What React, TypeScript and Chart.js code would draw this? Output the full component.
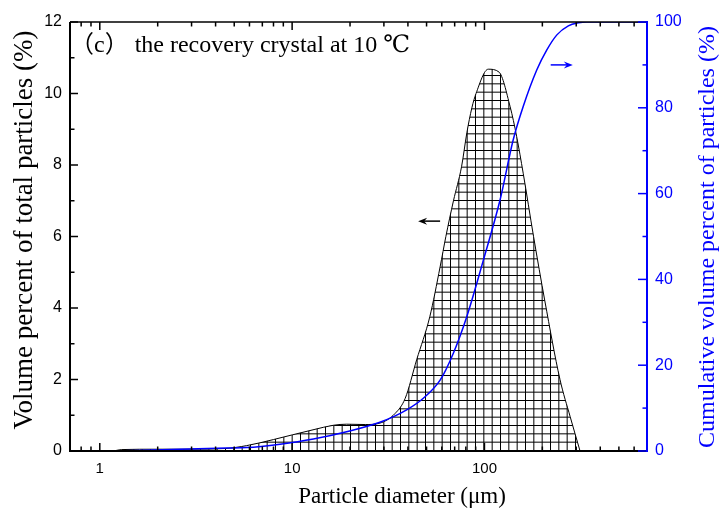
import React, { useEffect, useRef } from 'react';
import { Chart, registerables } from 'chart.js';

Chart.register(...registerables);

// ---- data ----
const volumeSizes = [1.18, 1.3, 2, 3, 4.5, 5.8, 8, 10, 13, 16.4, 19.2, 24, 28.6, 34.3, 38.7, 44.4, 52, 58.8, 63, 69, 76, 81, 86, 90.4, 104.7, 119, 136, 147, 159, 180, 206, 247, 279, 314];
const volumeValues = [0, 0.04, 0.05, 0.05, 0.07, 0.15, 0.32, 0.45, 0.6, 0.72, 0.75, 0.74, 0.78, 1.05, 1.47, 2.55, 3.76, 5.15, 6.0, 7.0, 7.95, 8.9, 9.6, 10.0, 10.68, 10.6, 9.63, 8.8, 7.77, 6.0, 4.2, 2.0, 0.96, 0];

const cumulativeSizes = [1.18, 2.61, 4.57, 5.8, 8.65, 12.9, 19.2, 28.6, 39.4, 48.1, 58.8, 68.9, 80.9, 98.7, 120.5, 141, 159, 187, 211, 238, 273, 308, 340, 700];
const cumulativeValues = [0, 0.4, 0.7, 0.8, 1.6, 2.8, 4.5, 6.7, 9.6, 12.3, 16.5, 22.8, 31.3, 44.5, 58.5, 72.5, 80.3, 88.8, 93.5, 97, 99.1, 99.8, 100, 100];

const xTickLabels = [1, 10, 100];
const xRange = [0.7, 700];
const leftRange = [0, 12];
const leftStep = 2;
const rightRange = [0, 100];
const rightStep = 20;

// arrows (data coordinates)
const leftArrowX = [58.8, 45.2];
const leftArrowY = 6.43;
const rightArrowX = [221, 288];
const rightArrowY = 90;

const annotationText = '（c） the recovery crystal at 10 ℃';
const xTitle = 'Particle diameter (μm)';
const leftTitle = 'Volume percent of total particles (%)';
const rightTitle = 'Cumulative volume percent of particles (%)';

const BLUE = '#0000ff';
const SERIF = '"Liberation Serif", "Times New Roman", "DejaVu Serif", "Noto Sans CJK SC", serif';
const SANS = '"Liberation Sans", Arial, sans-serif';

function makeHatch(ctx: CanvasRenderingContext2D) {
  const c = document.createElement('canvas');
  c.width = 25;
  c.height = 25;
  const g = c.getContext('2d')!;
  g.strokeStyle = '#000';
  g.lineWidth = 1;
  const step = 25 / 3;
  for (let i = 0; i < 3; i++) {
    const p = 0.5 + i * step;
    g.beginPath();
    g.moveTo(p, 0);
    g.lineTo(p, 25);
    g.stroke();
    g.beginPath();
    g.moveTo(0, p);
    g.lineTo(25, p);
    g.stroke();
  }
  return ctx.createPattern(c, 'repeat');
}

function drawArrow(ctx: CanvasRenderingContext2D, x1: number, x2: number, y: number, color: string) {
  const dir = Math.sign(x2 - x1);
  ctx.strokeStyle = color;
  ctx.fillStyle = color;
  ctx.lineWidth = 1.5;
  ctx.beginPath();
  ctx.moveTo(x1, y);
  ctx.lineTo(x2 - dir * 4, y);
  ctx.stroke();
  ctx.beginPath();
  ctx.moveTo(x2, y);
  ctx.lineTo(x2 - dir * 9, y - 3.5);
  ctx.lineTo(x2 - dir * 6, y);
  ctx.lineTo(x2 - dir * 9, y + 3.5);
  ctx.closePath();
  ctx.fill();
}

const originPlugin = {
  id: 'originStyle',
  afterDatasetsDraw(chart: any) {
    const { ctx, chartArea: a, scales } = chart;
    const xs = scales.x;
    const ys = scales.y;
    const y2 = scales.y2;
    ctx.save();
    ctx.lineCap = 'butt';

    // x ticks (bottom & top, inward)
    ctx.strokeStyle = '#000';
    ctx.lineWidth = 1.5;
    for (let e = -1; e <= 2; e++) {
      for (let m = 1; m <= 9; m++) {
        const v = m * Math.pow(10, e);
        if (v < xRange[0] - 1e-9 || v > xRange[1] + 1e-9) continue;
        const px = xs.getPixelForValue(v);
        const len = m === 1 ? 8 : 4.5;
        ctx.beginPath();
        ctx.moveTo(px, a.bottom);
        ctx.lineTo(px, a.bottom - len);
        ctx.moveTo(px, a.top);
        ctx.lineTo(px, a.top + len);
        ctx.stroke();
      }
    }
    // left ticks
    for (let v = leftRange[0]; v <= leftRange[1]; v += leftStep / 2) {
      const py = ys.getPixelForValue(v);
      const len = v % leftStep === 0 ? 8 : 4.5;
      ctx.beginPath();
      ctx.moveTo(a.left, py);
      ctx.lineTo(a.left + len, py);
      ctx.stroke();
    }
    // axis lines (black)
    ctx.lineWidth = 2;
    ctx.beginPath();
    ctx.moveTo(a.left, a.top);
    ctx.lineTo(a.left, a.bottom);
    ctx.lineTo(a.right, a.bottom);
    ctx.stroke();
    ctx.lineWidth = 1.5;
    ctx.beginPath();
    ctx.moveTo(a.left, a.top);
    ctx.lineTo(a.right, a.top);
    ctx.stroke();

    // right axis (blue)
    ctx.strokeStyle = BLUE;
    ctx.lineWidth = 1.5;
    for (let v = rightRange[0]; v <= rightRange[1]; v += rightStep / 2) {
      const py = y2.getPixelForValue(v);
      const len = v % rightStep === 0 ? 9 : 4.5;
      ctx.beginPath();
      ctx.moveTo(a.right, py);
      ctx.lineTo(a.right - len, py);
      ctx.stroke();
    }
    ctx.lineWidth = 2;
    ctx.beginPath();
    ctx.moveTo(a.right, a.top - 1);
    ctx.lineTo(a.right, a.bottom + 1);
    ctx.stroke();

    // arrows
    drawArrow(ctx, xs.getPixelForValue(leftArrowX[0]), xs.getPixelForValue(leftArrowX[1]), ys.getPixelForValue(leftArrowY), '#000');
    drawArrow(ctx, xs.getPixelForValue(rightArrowX[0]), xs.getPixelForValue(rightArrowX[1]), y2.getPixelForValue(rightArrowY), BLUE);

    // annotation
    ctx.fillStyle = '#000';
    ctx.font = `24px ${SERIF}`;
    ctx.textAlign = 'left';
    ctx.textBaseline = 'alphabetic';
    ctx.fillText(annotationText, a.left, a.top + 30);

    // x title
    ctx.font = `23px ${SERIF}`;
    ctx.textAlign = 'center';
    ctx.fillText(xTitle, 402, 503);

    // left title
    ctx.save();
    ctx.translate(32, 230);
    ctx.rotate(-Math.PI / 2);
    ctx.font = `27px ${SERIF}`;
    ctx.textAlign = 'center';
    ctx.fillText(leftTitle, 0, 0);
    ctx.restore();

    // right title
    ctx.save();
    ctx.translate(714, 237);
    ctx.rotate(-Math.PI / 2);
    ctx.font = `24px ${SERIF}`;
    ctx.fillStyle = BLUE;
    ctx.textAlign = 'center';
    ctx.fillText(rightTitle, 0, 0);
    ctx.restore();

    ctx.restore();
  },
};

export default function App() {
  const ref = useRef<HTMLCanvasElement | null>(null);

  useEffect(() => {
    document.body.style.margin = '0';
    const canvas = ref.current!;
    const ctx = canvas.getContext('2d')!;
    const hatch = makeHatch(ctx);

    const chart = new Chart(canvas, {
      type: 'line',
      data: {
        datasets: [
          {
            label: 'Cumulative volume percent',
            data: cumulativeSizes.map((s, i) => ({ x: s, y: cumulativeValues[i] })),
            yAxisID: 'y2',
            borderColor: BLUE,
            borderWidth: 1.5,
            pointRadius: 0,
            fill: false,
            cubicInterpolationMode: 'monotone',
            order: 0,
          },
          {
            label: 'Volume percent',
            data: volumeSizes.map((s, i) => ({ x: s, y: volumeValues[i] })),
            yAxisID: 'y',
            borderColor: '#000',
            borderWidth: 1,
            backgroundColor: hatch as any,
            fill: 'origin',
            pointRadius: 0,
            cubicInterpolationMode: 'monotone',
            order: 1,
          },
        ],
      },
      options: {
        animation: false,
        responsive: false,
        events: [],
        layout: { padding: { top: 22, left: 0, right: 0, bottom: 0 } },
        plugins: { legend: { display: false }, tooltip: { enabled: false } },
        scales: {
          x: {
            type: 'logarithmic',
            position: 'bottom',
            min: xRange[0],
            max: xRange[1],
            grid: { display: false, drawTicks: false },
            border: { display: false },
            afterBuildTicks: (s: any) => {
              s.ticks = xTickLabels.map((v) => ({ value: v }));
            },
            afterFit: (s: any) => {
              s.height = 59;
            },
            ticks: {
              color: '#000',
              font: { family: SANS, size: 15 },
              padding: 9,
              maxRotation: 0,
              autoSkip: false,
              callback: (v: any) => String(v),
            },
          },
          y: {
            position: 'left',
            min: leftRange[0],
            max: leftRange[1],
            grid: { display: false, drawTicks: false },
            border: { display: false },
            afterFit: (s: any) => {
              s.width = 70;
            },
            ticks: {
              stepSize: leftStep,
              color: '#000',
              font: { family: SANS, size: 16 },
              padding: 8,
            },
          },
          y2: {
            position: 'right',
            min: rightRange[0],
            max: rightRange[1],
            grid: { display: false, drawTicks: false },
            border: { display: false },
            afterFit: (s: any) => {
              s.width = 72;
            },
            ticks: {
              stepSize: rightStep,
              color: BLUE,
              font: { family: SANS, size: 16 },
              padding: 8,
            },
          },
        },
      } as any,
      plugins: [originPlugin],
    });

    return () => chart.destroy();
  }, []);

  return (
    <div style={{ width: 719, height: 510, background: '#fff' }}>
      <canvas ref={ref} width={719} height={510} style={{ display: 'block', width: 719, height: 510 }} />
    </div>
  );
}
